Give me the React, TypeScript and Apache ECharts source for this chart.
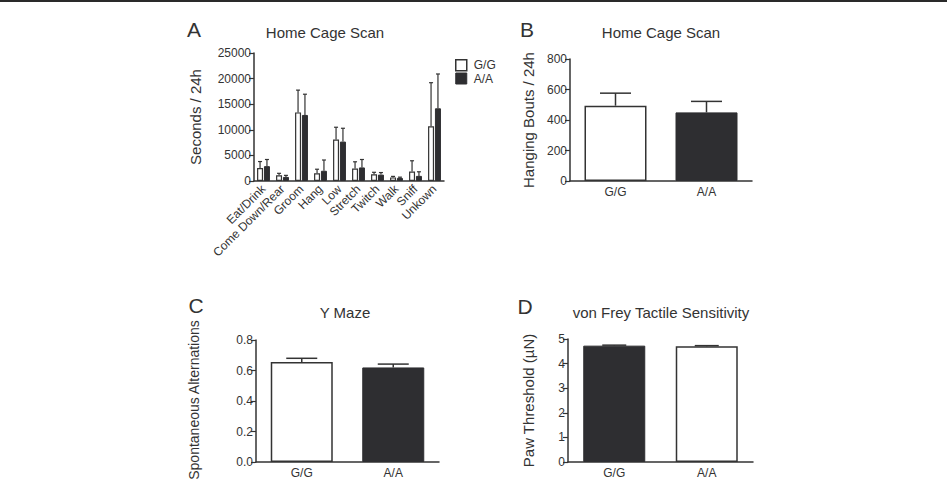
import React, { useEffect, useRef } from "react";
import * as echarts from "echarts";

// Panel A: home cage scan, time per behaviour (seconds / 24 h), mean and SEM
const behaviours = ["Eat/Drink", "Come Down/Rear", "Groom", "Hang", "Low", "Stretch", "Twitch", "Walk", "Sniff", "Unkown"];
const scanGG = [2550, 1100, 13400, 1500, 8100, 2450, 1300, 700, 1850, 10700];
const scanGGSem = [1250, 400, 4350, 800, 2400, 1300, 400, 200, 2100, 8500];
const scanAA = [2900, 800, 12900, 2000, 7700, 2650, 1250, 600, 1000, 14200];
const scanAASem = [1300, 300, 4050, 2100, 2600, 1550, 400, 150, 800, 6700];

// Panels B–D: genotype comparisons
const genotypes = ["G/G", "A/A"];
const hangingBouts = [494, 450];
const hangingBoutsSem = [82, 72];
const alternations = [0.655, 0.62];
const alternationsSem = [0.025, 0.022];
const pawThreshold = [4.73, 4.71];
const pawThresholdSem = [0.02, 0.02];

const INK = "#333";
const DARK = "#2e2e31";
const FONT = "'Liberation Sans', Arial, Helvetica, sans-serif";

function errorBars(axis: number, means: number[], sems: number[], offset: number, capHalf: number, lineWidth: number) {
  return {
    type: "custom",
    xAxisIndex: axis,
    yAxisIndex: axis,
    z: 4,
    silent: true,
    data: means.map((m, i) => [i, m, m + sems[i]]),
    encode: { x: 0, y: [1, 2] },
    renderItem: (_params: any, api: any) => {
      const i = api.value(0);
      const base = api.coord([i, api.value(1)]);
      const top = api.coord([i, api.value(2)]);
      const x = base[0] + offset;
      return {
        type: "group",
        children: [
          { type: "line", shape: { x1: x, y1: base[1], x2: x, y2: top[1] }, style: { stroke: INK, lineWidth } },
          { type: "line", shape: { x1: x - capHalf, y1: top[1], x2: x + capHalf, y2: top[1] }, style: { stroke: INK, lineWidth } },
        ],
      };
    },
  };
}

const whiteStyle = { color: "#fff", borderColor: INK, borderWidth: 1.5 };
const darkStyle = { color: DARK, borderColor: DARK, borderWidth: 1 };

function catAxis(gridIndex: number, data: string[], rotate = 0) {
  return {
    type: "category",
    gridIndex,
    data,
    axisLine: { lineStyle: { color: INK, width: 1.5 } },
    axisTick: { alignWithLabel: true, length: 4, lineStyle: { color: INK, width: 1.2 } },
    axisLabel: { color: INK, fontSize: 12, fontFamily: FONT, rotate, margin: rotate ? 6 : 5, interval: 0 },
  };
}

function valAxis(gridIndex: number, max: number, interval: number, name: string, nameGap: number, fmt: (v: number) => string) {
  return {
    type: "value",
    gridIndex,
    min: 0,
    max,
    interval,
    name,
    nameLocation: "middle",
    nameGap,
    nameTextStyle: { color: INK, fontSize: 15, fontFamily: FONT },
    splitLine: { show: false },
    axisLine: { show: true, lineStyle: { color: INK, width: 1.5 } },
    axisTick: { show: true, length: 5, lineStyle: { color: INK, width: 1.2 } },
    axisLabel: { color: INK, fontSize: 12, fontFamily: FONT, margin: 3, formatter: fmt },
  };
}

function text(x: number, y: number, t: string, size: number, rotation = 0) {
  return {
    type: "text",
    x,
    y,
    rotation,
    style: { text: t, fill: INK, font: `${size}px ${FONT}`, textAlign: "center", textVerticalAlign: "middle" },
  };
}

export default function App() {
  const ref = useRef<HTMLDivElement>(null);

  useEffect(() => {
    if (!ref.current) return;
    const chart = echarts.init(ref.current, undefined, { renderer: "svg" });
    const pair = (vals: number[]) =>
      vals.map((v, i) => ({ value: v, itemStyle: i === 0 ? whiteStyle : darkStyle }));
    const pairRev = (vals: number[]) =>
      vals.map((v, i) => ({ value: v, itemStyle: i === 0 ? darkStyle : whiteStyle }));

    const gridBase = { containLabel: false, outerBoundsMode: "none" };

    chart.setOption({
      animation: false,
      backgroundColor: "#fff",
      textStyle: { fontFamily: FONT },
      grid: [
        { ...gridBase, left: 254, top: 53, width: 190, height: 128 },
        { ...gridBase, left: 570, top: 59, width: 182, height: 122 },
        { ...gridBase, left: 256, top: 340, width: 183, height: 122 },
        { ...gridBase, left: 568, top: 339, width: 185, height: 123 },
      ],
      xAxis: [
        catAxis(0, behaviours, 45),
        catAxis(1, genotypes),
        catAxis(2, genotypes),
        catAxis(3, genotypes),
      ],
      yAxis: [
        valAxis(0, 25000, 5000, "Seconds / 24h", 51, (v) => String(v)),
        valAxis(1, 800, 200, "Hanging Bouts / 24h", 34, (v) => String(v)),
        // this axis title is drawn as a graphic below, placed low beside the axis
        valAxis(2, 0.8, 0.2, "", 0, (v) => v.toFixed(1)),
        valAxis(3, 5, 1, "Paw Threshold (\u00b5N)", 32, (v) => String(v)),
      ],
      legend: {
        orient: "vertical",
        left: 455,
        top: 59,
        padding: 0,
        itemGap: 1,
        itemWidth: 11,
        itemHeight: 11,
        icon: "rect",
        textStyle: { color: INK, fontSize: 12, fontFamily: FONT, padding: [0, 0, 0, 2] },
        data: [
          { name: "G/G", itemStyle: { color: "#fff", borderColor: INK, borderWidth: 1.5 } },
          { name: "A/A", itemStyle: { color: DARK, borderColor: DARK, borderWidth: 1 } },
        ],
      },
      series: [
        { name: "G/G", type: "bar", xAxisIndex: 0, yAxisIndex: 0, data: scanGG, barWidth: 6, barGap: "15%", itemStyle: { ...whiteStyle, borderWidth: 1.2 } },
        { name: "A/A", type: "bar", xAxisIndex: 0, yAxisIndex: 0, data: scanAA, barWidth: 6, barGap: "15%", itemStyle: darkStyle },
        errorBars(0, scanGG, scanGGSem, -3.45, 2, 1.2),
        errorBars(0, scanAA, scanAASem, 3.45, 2, 1.2),

        { name: "Hanging bouts", type: "bar", xAxisIndex: 1, yAxisIndex: 1, data: pair(hangingBouts), barWidth: 62 },
        errorBars(1, hangingBouts, hangingBoutsSem, 0, 15.5, 1.5),

        { name: "Alternations", type: "bar", xAxisIndex: 2, yAxisIndex: 2, data: pair(alternations), barWidth: 62 },
        errorBars(2, alternations, alternationsSem, 0, 15.5, 1.5),

        { name: "Paw threshold", type: "bar", xAxisIndex: 3, yAxisIndex: 3, data: pairRev(pawThreshold), barWidth: 62 },
        errorBars(3, pawThreshold, pawThresholdSem, 0, 12, 1.5),
      ],
      graphic: [
        { type: "rect", shape: { x: 0, y: 0, width: 947, height: 2 }, style: { fill: "#2a2a2a" } },
        text(194, 29, "A", 21),
        text(527, 29, "B", 21),
        text(196, 305, "C", 21),
        text(525, 306, "D", 21),
        text(325, 32, "Home Cage Scan", 15),
        text(661, 32, "Home Cage Scan", 15),
        text(345, 312, "Y Maze", 15),
        text(661, 312, "von Frey Tactile Sensitivity", 15),
        text(194, 400, "Spontaneous Alternations", 14, Math.PI / 2),
      ],
    });
    return () => chart.dispose();
  }, []);

  return (
    <div
      ref={ref}
      style={{ position: "absolute", left: 0, top: 0, width: 947, height: 484, overflow: "hidden" }}
    />
  );
}
